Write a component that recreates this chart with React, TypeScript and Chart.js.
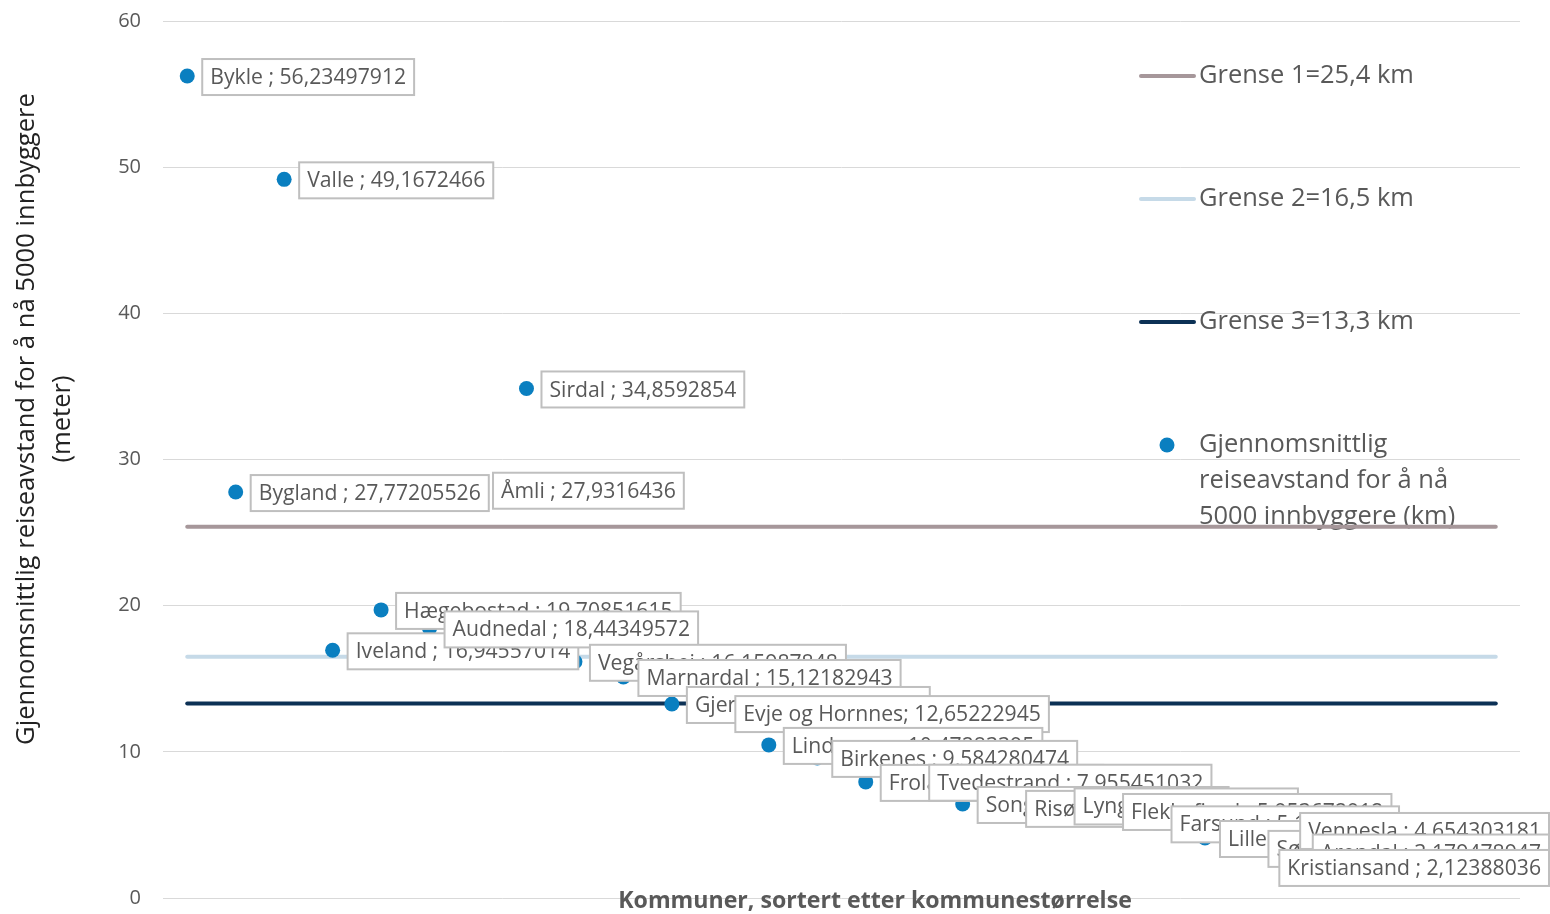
import React, { useEffect, useRef } from "react";
import { Chart, registerables } from "chart.js";
Chart.register(...registerables);

const kommuner = [
  "Bykle", "Bygland", "Valle", "Iveland", "Hægebostad", "Audnedal", "Åmli", "Sirdal",
  "Vegårshei", "Marnardal", "Gjerstad", "Evje og Hornnes", "Lindesnes", "Birkenes",
  "Froland", "Tvedestrand", "Songdalen", "Risør", "Lyngdal", "Flekkefjord", "Farsund",
  "Lillesand", "Søgne", "Vennesla", "Mandal", "Grimstad", "Arendal", "Kristiansand",
];
const reiseavstand = [
  56.23497912, 27.77205526, 49.1672466, 16.94557014, 19.70851615, 18.44349572, 27.9316436, 34.8592854,
  16.15987848, 15.12182943, 13.27431826, 12.65222945, 10.47283395, 9.584280474,
  7.94234512, 7.955451032, 6.43217859, 6.16482735, 6.33158462, 5.953672912, 5.10734629,
  4.10528364, 3.42718953, 4.654303181, 3.61, 3.85, 3.179478947, 2.12388036,
];
const labelSeparator = [
  " ; ", " ; ", " ; ", " ; ", " ; ", " ; ", " ; ", " ; ",
  " ; ", " ; ", " ; ", "; ", " ; ", " ; ",
  " ; ", " ; ", " ; ", " ; ", " ; ", " ; ", " ; ",
  " ; ", " ; ", " ; ", "", "", " ; ", " ; ",
];
const visLabel = [
  true, true, true, true, true, true, true, true,
  true, true, true, true, true, true,
  true, true, true, true, true, true, true,
  true, true, true, false, false, true, true,
];
const grenser = [25.4, 16.5, 13.3];
const grenseNavn = ["Grense 1=25,4 km", "Grense 2=16,5 km", "Grense 3=13,3 km"];
const grenseFarger = ["#A6979A", "#C6DAE8", "#0C3155"];
const serieNavn = ["Gjennomsnittlig", "reiseavstand for å nå", "5000 innbyggere (km)"];
const yTitle = ["Gjennomsnittlig reiseavstand for å nå 5000 innbyggere", "(meter)"];
const xTitle = "Kommuner, sortert etter kommunestørrelse";
const yMin = 0;
const yMax = 60;
const yStep = 10;

const FONT = '"Open Sans", "DejaVu Sans", sans-serif';
const POINT_COLOR = "#0A7FC0";
const TEXT = "#595959";

function fitSize(ctx: CanvasRenderingContext2D, text: string, target: number, weight: string) {
  ctx.font = `${weight} 20px ${FONT}`;
  const w = ctx.measureText(text).width;
  return (20 * target) / w;
}

const decorPlugin = {
  id: "decor",
  beforeDatasetsDraw(chart: any) {
    const ctx = chart.ctx as CanvasRenderingContext2D;
    ctx.save();
    const legY = [76, 199, 322];
    const legSize = fitSize(ctx, grenseNavn[0], 215, "normal");
    for (let i = 0; i < grenseNavn.length; i++) {
      ctx.strokeStyle = grenseFarger[i];
      ctx.lineWidth = 4;
      ctx.lineCap = "round";
      ctx.beginPath();
      ctx.moveTo(1141, legY[i]);
      ctx.lineTo(1194, legY[i]);
      ctx.stroke();
      ctx.fillStyle = TEXT;
      ctx.font = `${legSize}px ${FONT}`;
      ctx.textBaseline = "middle";
      ctx.textAlign = "left";
      ctx.fillText(grenseNavn[i], 1199, legY[i]);
    }
    ctx.fillStyle = POINT_COLOR;
    ctx.beginPath();
    ctx.arc(1167, 445, 7.5, 0, Math.PI * 2);
    ctx.fill();
    ctx.fillStyle = TEXT;
    ctx.font = `${legSize}px ${FONT}`;
    for (let j = 0; j < serieNavn.length; j++) {
      ctx.fillText(serieNavn[j], 1199, 445 + j * 36);
    }
    ctx.restore();
  },
  afterDatasetsDraw(chart: any) {
    const ctx = chart.ctx as CanvasRenderingContext2D;
    const xs = chart.scales.x;
    const ys = chart.scales.y;
    ctx.save();
    ctx.font = `21.2px ${FONT}`;
    ctx.textBaseline = "middle";
    ctx.textAlign = "left";
    for (let i = 0; i < kommuner.length; i++) {
      if (!visLabel[i]) continue;
      const txt = kommuner[i] + labelSeparator[i] + String(reiseavstand[i]).replace(".", ",");
      const px = xs.getPixelForValue(i);
      const py = ys.getPixelForValue(reiseavstand[i]);
      const w = ctx.measureText(txt).width + 16;
      const h = 36;
      let left = px + 15;
      if (left + w > 1549) left = 1549 - w;
      const top = py - h / 2 + 1;
      ctx.fillStyle = "#FFFFFF";
      ctx.fillRect(left, top, w, h);
      ctx.strokeStyle = "#BFBFBF";
      ctx.lineWidth = 2;
      ctx.strokeRect(left, top, w, h);
      ctx.fillStyle = TEXT;
      ctx.fillText(txt, left + 8, top + h / 2 + 1);
    }
    ctx.restore();
  },
  afterDraw(chart: any) {
    const ctx = chart.ctx as CanvasRenderingContext2D;
    ctx.save();
    const s1 = fitSize(ctx, yTitle[0], 652, "normal");
    for (let k = 0; k < yTitle.length; k++) {
      ctx.save();
      ctx.translate(k === 0 ? 27 : 63, 419);
      ctx.rotate(-Math.PI / 2);
      ctx.fillStyle = "#222222";
      ctx.textAlign = "center";
      ctx.textBaseline = "middle";
      ctx.font = `${s1}px ${FONT}`;
      ctx.fillText(yTitle[k], 0, 0);
      ctx.restore();
    }
    const s2 = fitSize(ctx, xTitle, 514, "bold");
    ctx.font = `bold ${s2}px ${FONT}`;
    ctx.fillStyle = TEXT;
    ctx.textAlign = "center";
    ctx.textBaseline = "middle";
    ctx.fillText(xTitle, 875, 901);
    ctx.restore();
  },
};

export default function App() {
  const ref = useRef<HTMLCanvasElement | null>(null);
  useEffect(() => {
    let chart: Chart | null = null;
    let cancelled = false;
    const make = () => {
      if (cancelled || !ref.current) return;
      const n = kommuner.length;
      const points = reiseavstand.map((v, i) => ({ x: i, y: v }));
      const lineSets = grenser.map((g, k) => ({
        type: "line" as const,
        label: grenseNavn[k],
        data: [
          { x: 0, y: g },
          { x: n - 1, y: g },
        ],
        borderColor: grenseFarger[k],
        borderWidth: 4,
        borderCapStyle: "round" as const,
        pointRadius: 0,
        fill: false,
        order: 2 + k,
      }));
      chart = new Chart(ref.current, {
        type: "scatter",
        data: {
          datasets: [
            {
              label: serieNavn.join(" "),
              data: points,
              backgroundColor: POINT_COLOR,
              borderColor: POINT_COLOR,
              pointRadius: 7.5,
              pointBorderWidth: 0,
              showLine: false,
              order: 1,
            } as any,
            ...lineSets,
          ],
        },
        options: {
          responsive: false,
          animation: false,
          events: [],
          layout: { padding: { left: 0, right: 30, top: 21, bottom: 16 } },
          plugins: {
            legend: { display: false },
            tooltip: { enabled: false },
            title: { display: false },
          },
          scales: {
            x: {
              type: "linear",
              min: -0.5,
              max: n - 0.5,
              display: false,
            },
            y: {
              min: yMin,
              max: yMax,
              afterFit: (scale: any) => {
                scale.width = 163;
                scale.paddingTop = 0;
                scale.paddingBottom = 0;
              },
              ticks: {
                stepSize: yStep,
                padding: 22,
                color: TEXT,
                font: { family: FONT, size: 20 },
              },
              grid: { color: "#D9D9D9", lineWidth: 1, drawTicks: false },
              border: { display: false },
            },
          },
        },
        plugins: [decorPlugin],
      });
    };
    const fonts = (document as any).fonts;
    if (fonts && fonts.load) {
      Promise.all([
        fonts.load(`20px "Open Sans"`),
        fonts.load(`bold 20px "Open Sans"`),
      ]).then(make, make);
    } else {
      make();
    }
    return () => {
      cancelled = true;
      if (chart) chart.destroy();
    };
  }, []);
  return (
    <div style={{ position: "fixed", left: 0, top: 0, width: 1550, height: 914, background: "#fff" }}>
      <canvas ref={ref} width={1550} height={914} style={{ display: "block" }} />
    </div>
  );
}
